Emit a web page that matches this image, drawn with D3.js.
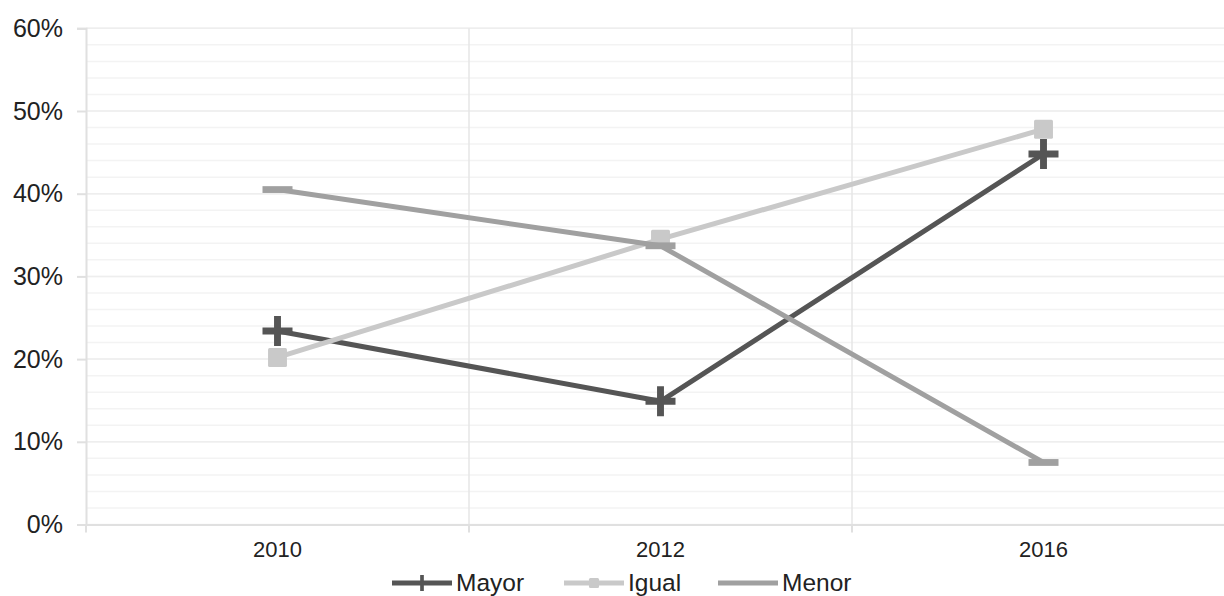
<!DOCTYPE html>
<html>
<head>
<meta charset="utf-8">
<script src="https://cdn.jsdelivr.net/npm/d3@7/dist/d3.min.js"></script>
<style>
  html, body { margin: 0; padding: 0; background: #fff; }
  svg { display: block; font-family: "Liberation Sans", Arial, sans-serif; }
</style>
</head>
<body>
<svg id="chart" width="1224" height="596"></svg>
<script>
// Categories and series (share of respondents)
const years = ["2010", "2012", "2016"];
const mayor = [0.234, 0.149, 0.448];
const igual = [0.202, 0.345, 0.478];
const menor = [0.405, 0.337, 0.075];
const yMajorTicks = [0, 0.1, 0.2, 0.3, 0.4, 0.5, 0.6];
const yMinorTicks = d3.range(0, 0.601, 0.02);

const series = [
  { name: "Mayor", values: mayor, color: "#555555", marker: "plus" },
  { name: "Igual", values: igual, color: "#c9c9c9", marker: "square" },
  { name: "Menor", values: menor, color: "#a0a0a0", marker: "dash" }
];

const svg = d3.select("#chart");
const plotLeft = 86, plotRight = 1235, plotTop = 28.3, plotBottom = 524.5;

const x = d3.scaleBand().domain(years).range([plotLeft, plotRight]).paddingInner(0).paddingOuter(0);
const y = d3.scaleLinear().domain([0, 0.6]).range([plotBottom, plotTop]);
const xc = d => x(d) + x.bandwidth() / 2;

// Minor horizontal gridlines
svg.append("g").selectAll("line").data(yMinorTicks).join("line")
  .attr("x1", plotLeft).attr("x2", plotRight)
  .attr("y1", d => y(d)).attr("y2", d => y(d))
  .attr("stroke", "#f3f3f3").attr("stroke-width", 1.5);

// Major horizontal gridlines
svg.append("g").selectAll("line").data(yMajorTicks.slice(1)).join("line")
  .attr("x1", plotLeft).attr("x2", plotRight)
  .attr("y1", d => y(d)).attr("y2", d => y(d))
  .attr("stroke", "#eeeeee").attr("stroke-width", 1.5);

// Vertical gridlines at category boundaries
svg.append("g").selectAll("line").data(years.slice(1)).join("line")
  .attr("x1", d => x(d)).attr("x2", d => x(d))
  .attr("y1", plotTop).attr("y2", plotBottom)
  .attr("stroke", "#e6e6e6").attr("stroke-width", 1.5);

// Y axis
const yAxis = d3.axisLeft(y).tickValues(yMajorTicks).tickFormat(d3.format(".0%"))
  .tickSize(9).tickPadding(14);
const gy = svg.append("g").attr("transform", `translate(${plotLeft},0)`).call(yAxis);
gy.select(".domain").attr("stroke", "#e0e0e0").attr("stroke-width", 2);
gy.selectAll(".tick line").attr("stroke", "#e0e0e0").attr("stroke-width", 2);
gy.selectAll(".tick text").attr("fill", "#222").attr("font-size", 25)
  .attr("font-family", "'Liberation Sans', Arial, sans-serif");

// X axis
const xAxis = d3.axisBottom(x).tickSize(0).tickPadding(17);
const gx = svg.append("g").attr("transform", `translate(0,${plotBottom})`).call(xAxis);
gx.select(".domain").attr("stroke", "#e0e0e0").attr("stroke-width", 2);
gx.selectAll(".tick text").attr("fill", "#222").attr("font-size", 22)
  .attr("font-family", "'Liberation Sans', Arial, sans-serif");
gx.append("g").selectAll("line").data(years).join("line")
  .attr("x1", d => x(d)).attr("x2", d => x(d))
  .attr("y1", 0).attr("y2", 8)
  .attr("stroke", "#e0e0e0").attr("stroke-width", 2);

// Marker drawing
function drawMarker(g, type, color, size) {
  if (type === "plus") {
    const h = size / 2;
    g.append("path").attr("d", `M${-h},0H${h}M0,${-h}V${h}`)
      .attr("stroke", color).attr("stroke-width", size * 0.23).attr("fill", "none");
  } else if (type === "square") {
    const s = size * 0.63;
    g.append("rect").attr("x", -s / 2).attr("y", -s / 2).attr("width", s).attr("height", s)
      .attr("rx", 1.5).attr("fill", color);
  } else {
    g.append("rect").attr("x", -size / 2).attr("y", -3.4).attr("width", size).attr("height", 6.8)
      .attr("fill", color);
  }
}

const line = d3.line().x(d => xc(d.year)).y(d => y(d.v));

series.forEach(s => {
  const pts = years.map((yr, i) => ({ year: yr, v: s.values[i] }));
  const g = svg.append("g");
  g.append("path").datum(pts).attr("d", line)
    .attr("fill", "none").attr("stroke", s.color).attr("stroke-width", 5)
    .attr("stroke-linejoin", "round");
  pts.forEach(p => {
    const m = g.append("g").attr("transform", `translate(${xc(p.year)},${y(p.v)})`);
    drawMarker(m, s.marker, s.color, 30);
  });
});

// Legend
const legendItems = [
  { s: series[0], x: 392 },
  { s: series[1], x: 564 },
  { s: series[2], x: 718 }
];
const ly = 583;
const lg = svg.append("g");
legendItems.forEach(it => {
  const g = lg.append("g").attr("transform", `translate(${it.x},${ly})`);
  g.append("line").attr("x1", 0).attr("x2", 60).attr("y1", 0).attr("y2", 0)
    .attr("stroke", it.s.color).attr("stroke-width", 5);
  const m = g.append("g").attr("transform", "translate(30,0)");
  if (it.s.marker !== "dash") drawMarker(m, it.s.marker, it.s.color, 16);
  g.append("text").attr("x", 64).attr("y", 7.5).text(it.s.name)
    .attr("font-size", 24.5).attr("fill", "#222");
});
</script>
</body>
</html>
